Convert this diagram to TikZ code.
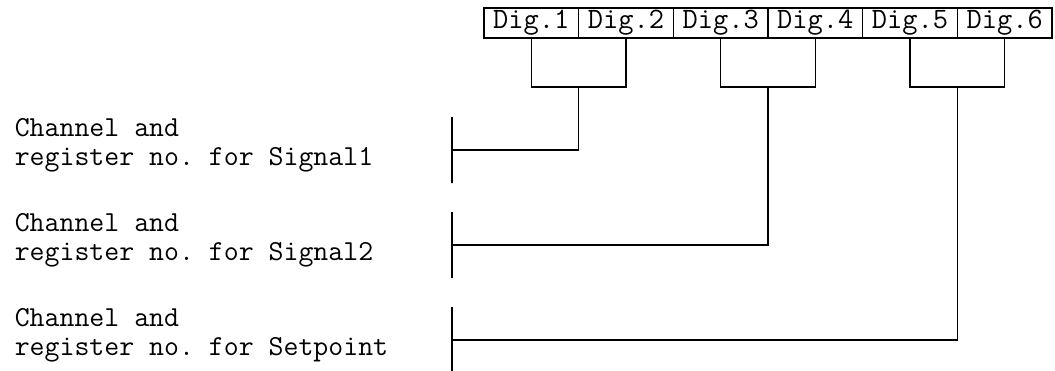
\documentclass[tikz,border=0pt]{standalone}
\usepackage{tikz}
\usetikzlibrary{positioning}
\frenchspacing
\tikzset{
	x=0.5pt, y=-0.5pt,
	every text node part/.style= {
		align=left
	},
	cell/.style= {
		rectangle,
		draw,
		outer sep=0pt,
		inner sep=0pt,
		minimum width=47.33pt,
		minimum height=15pt,
		font=\ttfamily\fontsize{14.8pt}{14.8pt}\selectfont
	},
	regtext/.style= {
		inner sep=0pt,
		anchor=base west,
		font=\ttfamily\fontsize{14.5pt}{14.5pt}\selectfont
	},
	bar/.style= {
		rectangle,
		draw,
		inner sep=0pt,
		minimum width=0pt,
		minimum height=33pt
	}
}

\begin{document}
\begin{tikzpicture}[line width=0.8pt]
		\useasboundingbox (0,0) rectangle (1055,370);
		\node (dig1)[cell, anchor=north west] at (484,8) {Dig.1};
		
		\foreach[count=\i from 1] \j in {2,...,6}
		{
			\node (dig\j)[cell, right = 0pt of dig\i]{Dig.\j};
		}
		
		\coordinate (fork) at (0,87);
		
		\foreach[count=\k from 1] \signal/\y in {Signal1/150, Signal2/245, Setpoint/340}
		{
			\pgfmathtruncatemacro{\a}{2*\k-1}
			\pgfmathtruncatemacro{\b}{2*\k}
			\coordinate (join\k) at (dig\a.south east |- fork);
			\draw (dig\a.south) |- (join\k) -| (dig\b.south);
			
			\node (text\k)[regtext] at (14,\y+15) {Channel and\\register no. for \signal};
			\node (bar\k)[bar] at (452,\y) {};
			\draw (bar\k) -| (join\k);
		}
	\end{tikzpicture}
\end{document}
